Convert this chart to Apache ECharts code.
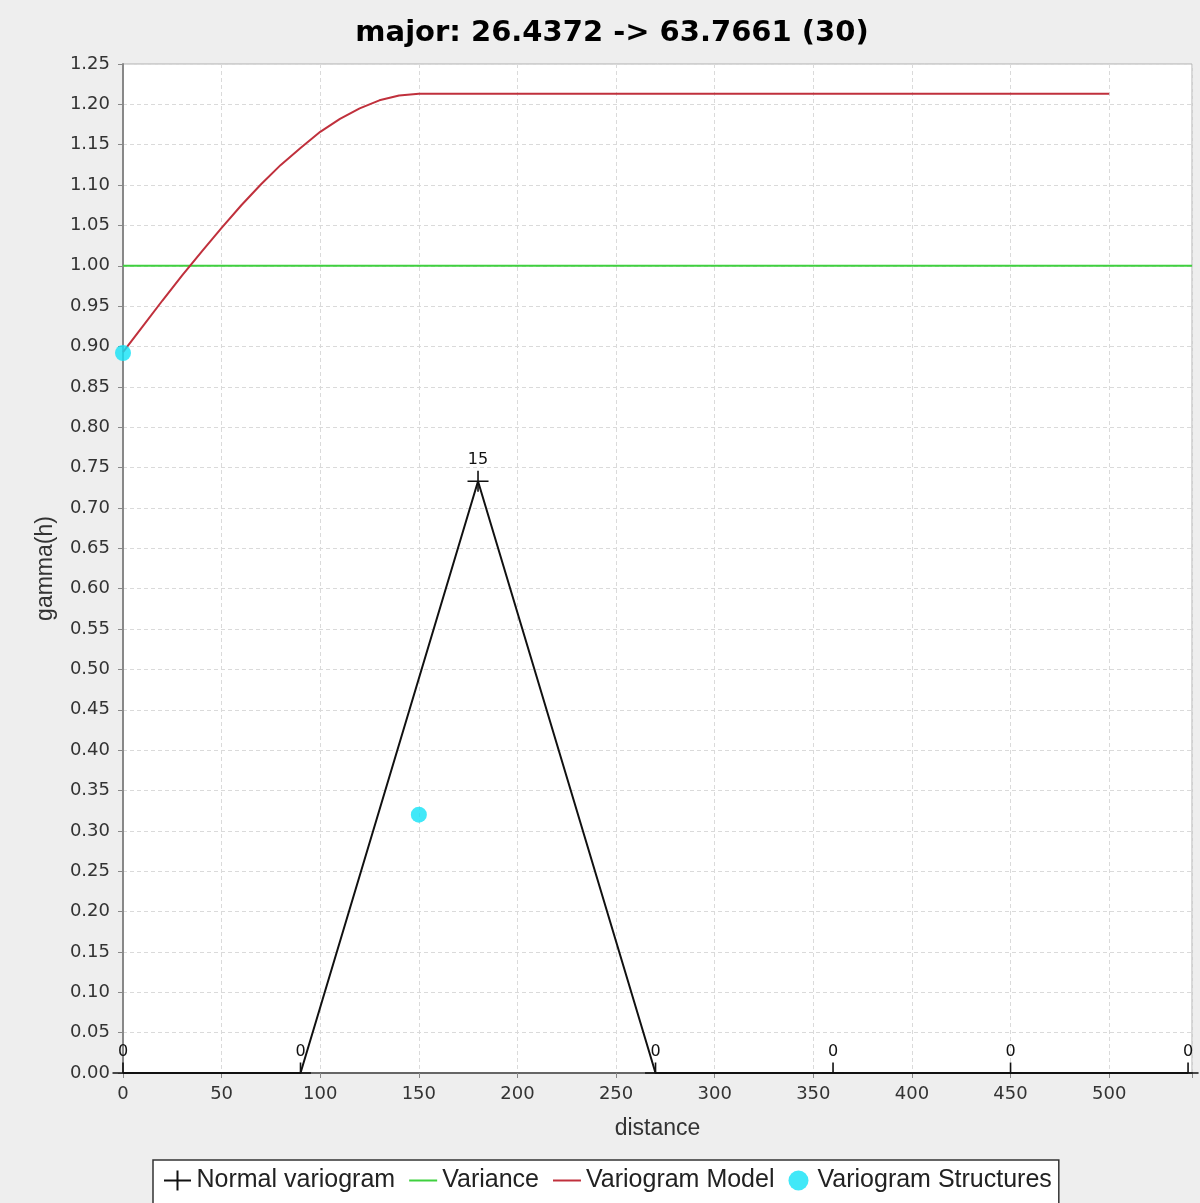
<!DOCTYPE html>
<html>
<head>
<meta charset="utf-8">
<script src="https://cdn.jsdelivr.net/npm/echarts@6/dist/echarts.min.js"></script>
<style>
html,body{margin:0;padding:0;background:#eeeeee;}
#chart{width:1200px;height:1203px;}
</style>
</head>
<body>
<div id="chart"></div>
<script>
// ---- data ----
var titleText = 'major: 26.4372 -> 63.7661 (30)';
var lagDistance = [0, 90, 180, 270, 360, 450, 540];
var lagGamma    = [0, 0, 0.733, 0, 0, 0, 0];
var lagPairs    = [0, 0, 15, 0, 0, 0, 0];
var varianceValue = 1.0;
var modelDistance = [0, 10, 20, 30, 40, 50, 60, 70, 80, 90, 100, 110, 120, 130, 140, 150, 500];
var modelGamma    = [0.893, 0.925, 0.957, 0.988, 1.018, 1.047, 1.075, 1.101, 1.125, 1.146, 1.166, 1.182, 1.195, 1.205, 1.211, 1.213, 1.213];
var structDistance = [0, 150];
var structGamma    = [0.892, 0.32];
var xMin = 0, xMax = 542, xStep = 50;
var yMin = 0, yMax = 1.25, yStep = 0.05;

function pairs(xs, ys){ return xs.map(function(x,i){ return [x, ys[i]]; }); }

var plusPath = 'path://M0,10 L20,10 M10,0 L10,20';
// plus marker whose lower half is hidden by the plot edge (as in the reference)
var halfPlusPath = 'path://M0,10 L20,10 M10,0 L10,10 M10,20';
var legendPlusPath = 'path://M0,10 L27,10 M13.5,0 L13.5,20';
var linePath = 'path://M0,0 L28,0 L28,2 L0,2 Z';
var chart = echarts.init(document.getElementById('chart'), null, {renderer:'canvas'});
var tickFont = 'DejaVu Sans';
chart.setOption({
  backgroundColor: '#eeeeee',
  animation: false,
  title: {
    text: titleText,
    left: 607, top: 14, textAlign: 'center',
    textStyle: {fontFamily: 'DejaVu Sans', fontWeight: 'bold', fontSize: 29, color: '#000'}
  },
  grid: {
    left: 123, top: 64, right: 8, bottom: 130,
    show: true, backgroundColor: '#ffffff', borderColor: '#b0b0b0', borderWidth: 1,
    containLabel: false
  },
  legend: {
    left: 153, top: 1160,
    backgroundColor: '#ffffff', borderColor: '#333333', borderWidth: 1.5, borderRadius: 0,
    padding: [8, 7, 20, 10],
    itemWidth: 28, itemHeight: 20, itemGap: 14,
    textStyle: {fontFamily: 'Liberation Sans', fontSize: 25, color: '#222'},
    data: [
      {name: 'Normal variogram', icon: legendPlusPath},
      {name: 'Variance', icon: linePath},
      {name: 'Variogram Model', icon: linePath},
      {name: 'Variogram Structures', icon: 'circle'}
    ]
  },
  xAxis: {
    type: 'value', min: xMin, max: xMax, interval: xStep,
    name: 'distance', nameLocation: 'middle', nameGap: 44,
    nameTextStyle: {fontFamily: 'Liberation Sans', fontSize: 23, color: '#333'},
    axisLine: {show: true, onZero: false, lineStyle: {color: '#666', width: 2}},
    axisTick: {show: true, length: 5, lineStyle: {color: '#888'}},
    axisLabel: {
      fontFamily: tickFont, fontSize: 18, color: '#333', margin: 12,
      formatter: function(v){ return (Math.abs(v % xStep) < 1e-9) ? String(v) : ''; }
    },
    splitLine: {show: true, lineStyle: {color: '#dadada', type: [4, 3], width: 1}}
  },
  yAxis: {
    type: 'value', min: yMin, max: yMax, interval: yStep,
    name: 'gamma(h)', nameLocation: 'middle', nameGap: 66,
    nameTextStyle: {fontFamily: 'Liberation Sans', fontSize: 23, color: '#333'},
    axisLine: {show: true, onZero: false, lineStyle: {color: '#888', width: 2}},
    axisTick: {show: true, length: 5, lineStyle: {color: '#888'}},
    axisLabel: {
      fontFamily: tickFont, fontSize: 18, color: '#333', margin: 13,
      formatter: function(v){ return v.toFixed(2); }
    },
    splitLine: {show: true, lineStyle: {color: '#dadada', type: [4, 3], width: 1}}
  },
  series: [
    {
      name: 'Variance', type: 'line', symbol: 'none', z: 2,
      lineStyle: {color: '#3fd03f', width: 2}, itemStyle: {color: '#3fd03f'},
      data: [[xMin, varianceValue], [xMax, varianceValue]]
    },
    {
      name: 'Variogram Model', type: 'line', symbol: 'none', z: 3,
      lineStyle: {color: '#c0303c', width: 2}, itemStyle: {color: '#c0303c'},
      data: pairs(modelDistance, modelGamma)
    },
    {
      name: 'Normal variogram', type: 'line', z: 4,
      symbol: function(v){ return v[1] <= yMin ? halfPlusPath : plusPath; },
      symbolSize: 21, showAllSymbol: true,
      lineStyle: {color: '#111', width: 2},
      itemStyle: {color: '#111', borderColor: '#111', borderWidth: 1.6},
      label: {
        show: true, position: 'top', distance: 2,
        fontFamily: tickFont, fontSize: 16, color: '#111',
        formatter: function(p){ return String(lagPairs[p.dataIndex]); }
      },
      data: pairs(lagDistance, lagGamma)
    },
    {
      name: 'Variogram Structures', type: 'scatter', z: 5,
      symbol: 'circle', symbolSize: 16,
      itemStyle: {color: '#12e2f6'},
      data: pairs(structDistance, structGamma)
    }
  ]
});
</script>
</body>
</html>
